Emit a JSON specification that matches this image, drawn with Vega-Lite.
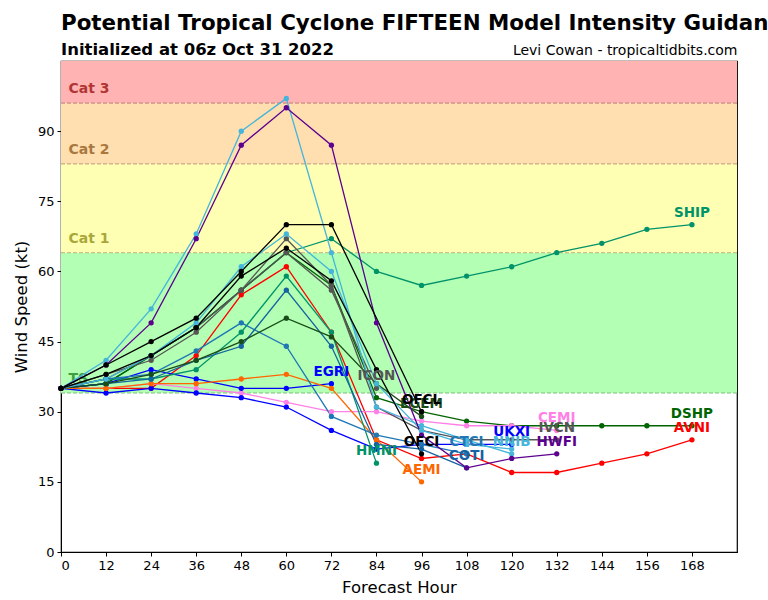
{
  "$schema": "https://vega.github.io/schema/vega-lite/v6.json",
  "width": 676,
  "height": 491,
  "autosize": "none",
  "padding": {"left": 61, "top": 61, "right": 31, "bottom": 48},
  "title": {
    "text": "Potential Tropical Cyclone FIFTEEN Model Intensity Guidance",
    "subtitle": "Initialized at 06z Oct 31 2022",
    "anchor": "start",
    "frame": "group",
    "font": "DejaVu Sans",
    "fontSize": 21.4,
    "fontWeight": "bold",
    "color": "black",
    "subtitleFont": "DejaVu Sans",
    "subtitleFontSize": 16.5,
    "subtitleFontWeight": "bold",
    "subtitleColor": "black",
    "subtitlePadding": 7,
    "offset": -15
  },
  "datasets": {
    "bands": [
      {"cat": "TS", "lo": 34, "hi": 64},
      {"cat": "Cat 1", "lo": 64, "hi": 83},
      {"cat": "Cat 2", "lo": 83, "hi": 96},
      {"cat": "Cat 3", "lo": 96, "hi": 105}
    ],
    "models": [
      {"m": "SHIP", "h": 0, "v": 35}, {"m": "SHIP", "h": 12, "v": 36}, {"m": "SHIP", "h": 24, "v": 42}, {"m": "SHIP", "h": 36, "v": 48}, {"m": "SHIP", "h": 48, "v": 56}, {"m": "SHIP", "h": 60, "v": 64}, {"m": "SHIP", "h": 72, "v": 67}, {"m": "SHIP", "h": 84, "v": 60}, {"m": "SHIP", "h": 96, "v": 57}, {"m": "SHIP", "h": 108, "v": 59}, {"m": "SHIP", "h": 120, "v": 61}, {"m": "SHIP", "h": 132, "v": 64}, {"m": "SHIP", "h": 144, "v": 66}, {"m": "SHIP", "h": 156, "v": 69}, {"m": "SHIP", "h": 168, "v": 70},
      {"m": "DSHP", "h": 0, "v": 35}, {"m": "DSHP", "h": 12, "v": 36}, {"m": "DSHP", "h": 24, "v": 42}, {"m": "DSHP", "h": 36, "v": 48}, {"m": "DSHP", "h": 48, "v": 56}, {"m": "DSHP", "h": 60, "v": 64}, {"m": "DSHP", "h": 72, "v": 57}, {"m": "DSHP", "h": 84, "v": 33}, {"m": "DSHP", "h": 96, "v": 30}, {"m": "DSHP", "h": 108, "v": 28}, {"m": "DSHP", "h": 120, "v": 27}, {"m": "DSHP", "h": 132, "v": 27}, {"m": "DSHP", "h": 144, "v": 27}, {"m": "DSHP", "h": 156, "v": 27}, {"m": "DSHP", "h": 168, "v": 27},
      {"m": "AVNI", "h": 0, "v": 35}, {"m": "AVNI", "h": 12, "v": 35}, {"m": "AVNI", "h": 24, "v": 35}, {"m": "AVNI", "h": 36, "v": 42}, {"m": "AVNI", "h": 48, "v": 55}, {"m": "AVNI", "h": 60, "v": 61}, {"m": "AVNI", "h": 72, "v": 47}, {"m": "AVNI", "h": 84, "v": 24}, {"m": "AVNI", "h": 96, "v": 20}, {"m": "AVNI", "h": 108, "v": 21}, {"m": "AVNI", "h": 120, "v": 17}, {"m": "AVNI", "h": 132, "v": 17}, {"m": "AVNI", "h": 144, "v": 19}, {"m": "AVNI", "h": 156, "v": 21}, {"m": "AVNI", "h": 168, "v": 24},
      {"m": "CEMI", "h": 0, "v": 35}, {"m": "CEMI", "h": 12, "v": 35}, {"m": "CEMI", "h": 24, "v": 36}, {"m": "CEMI", "h": 36, "v": 35}, {"m": "CEMI", "h": 48, "v": 34}, {"m": "CEMI", "h": 60, "v": 32}, {"m": "CEMI", "h": 72, "v": 30}, {"m": "CEMI", "h": 84, "v": 30}, {"m": "CEMI", "h": 96, "v": 28}, {"m": "CEMI", "h": 108, "v": 27}, {"m": "CEMI", "h": 120, "v": 27}, {"m": "CEMI", "h": 132, "v": 26},
      {"m": "EGRI", "h": 0, "v": 35}, {"m": "EGRI", "h": 12, "v": 36}, {"m": "EGRI", "h": 24, "v": 39}, {"m": "EGRI", "h": 36, "v": 37}, {"m": "EGRI", "h": 48, "v": 35}, {"m": "EGRI", "h": 60, "v": 35}, {"m": "EGRI", "h": 72, "v": 36},
      {"m": "UKXI", "h": 0, "v": 35}, {"m": "UKXI", "h": 12, "v": 34}, {"m": "UKXI", "h": 24, "v": 35}, {"m": "UKXI", "h": 36, "v": 34}, {"m": "UKXI", "h": 48, "v": 33}, {"m": "UKXI", "h": 60, "v": 31}, {"m": "UKXI", "h": 72, "v": 26}, {"m": "UKXI", "h": 84, "v": 22}, {"m": "UKXI", "h": 96, "v": 23}, {"m": "UKXI", "h": 108, "v": 23}, {"m": "UKXI", "h": 120, "v": 23},
      {"m": "AEMI", "h": 0, "v": 35}, {"m": "AEMI", "h": 12, "v": 35}, {"m": "AEMI", "h": 24, "v": 36}, {"m": "AEMI", "h": 36, "v": 36}, {"m": "AEMI", "h": 48, "v": 37}, {"m": "AEMI", "h": 60, "v": 38}, {"m": "AEMI", "h": 72, "v": 35}, {"m": "AEMI", "h": 84, "v": 24}, {"m": "AEMI", "h": 96, "v": 15},
      {"m": "HMNI", "h": 0, "v": 35}, {"m": "HMNI", "h": 12, "v": 37}, {"m": "HMNI", "h": 24, "v": 37}, {"m": "HMNI", "h": 36, "v": 39}, {"m": "HMNI", "h": 48, "v": 47}, {"m": "HMNI", "h": 60, "v": 59}, {"m": "HMNI", "h": 72, "v": 47}, {"m": "HMNI", "h": 84, "v": 19},
      {"m": "CTCI", "h": 0, "v": 35}, {"m": "CTCI", "h": 12, "v": 37}, {"m": "CTCI", "h": 24, "v": 38}, {"m": "CTCI", "h": 36, "v": 43}, {"m": "CTCI", "h": 48, "v": 49}, {"m": "CTCI", "h": 60, "v": 44}, {"m": "CTCI", "h": 72, "v": 29}, {"m": "CTCI", "h": 84, "v": 25}, {"m": "CTCI", "h": 96, "v": 23}, {"m": "CTCI", "h": 108, "v": 21},
      {"m": "COTI", "h": 0, "v": 35}, {"m": "COTI", "h": 12, "v": 36}, {"m": "COTI", "h": 24, "v": 37}, {"m": "COTI", "h": 36, "v": 41}, {"m": "COTI", "h": 48, "v": 44}, {"m": "COTI", "h": 60, "v": 56}, {"m": "COTI", "h": 72, "v": 44}, {"m": "COTI", "h": 84, "v": 23}, {"m": "COTI", "h": 96, "v": 22}, {"m": "COTI", "h": 108, "v": 18},
      {"m": "EGEM", "h": 0, "v": 35}, {"m": "EGEM", "h": 12, "v": 36}, {"m": "EGEM", "h": 24, "v": 38}, {"m": "EGEM", "h": 36, "v": 41}, {"m": "EGEM", "h": 48, "v": 45}, {"m": "EGEM", "h": 60, "v": 50}, {"m": "EGEM", "h": 72, "v": 46}, {"m": "EGEM", "h": 84, "v": 36}, {"m": "EGEM", "h": 96, "v": 29},
      {"m": "ICON", "h": 0, "v": 35}, {"m": "ICON", "h": 12, "v": 38}, {"m": "ICON", "h": 24, "v": 41}, {"m": "ICON", "h": 36, "v": 47}, {"m": "ICON", "h": 48, "v": 56}, {"m": "ICON", "h": 60, "v": 64}, {"m": "ICON", "h": 72, "v": 56}, {"m": "ICON", "h": 84, "v": 35},
      {"m": "IVCN", "h": 0, "v": 35}, {"m": "IVCN", "h": 12, "v": 37}, {"m": "IVCN", "h": 24, "v": 42}, {"m": "IVCN", "h": 36, "v": 48}, {"m": "IVCN", "h": 48, "v": 56}, {"m": "IVCN", "h": 60, "v": 67}, {"m": "IVCN", "h": 72, "v": 57}, {"m": "IVCN", "h": 84, "v": 31}, {"m": "IVCN", "h": 96, "v": 26}, {"m": "IVCN", "h": 108, "v": 24}, {"m": "IVCN", "h": 120, "v": 24}, {"m": "IVCN", "h": 132, "v": 24},
      {"m": "NNIC", "h": 0, "v": 35}, {"m": "NNIC", "h": 12, "v": 37}, {"m": "NNIC", "h": 24, "v": 42}, {"m": "NNIC", "h": 36, "v": 49}, {"m": "NNIC", "h": 48, "v": 61}, {"m": "NNIC", "h": 60, "v": 68}, {"m": "NNIC", "h": 72, "v": 60}, {"m": "NNIC", "h": 84, "v": 36}, {"m": "NNIC", "h": 96, "v": 26}, {"m": "NNIC", "h": 108, "v": 23}, {"m": "NNIC", "h": 120, "v": 22},
      {"m": "NNIB", "h": 0, "v": 35}, {"m": "NNIB", "h": 12, "v": 41}, {"m": "NNIB", "h": 24, "v": 52}, {"m": "NNIB", "h": 36, "v": 68}, {"m": "NNIB", "h": 48, "v": 90}, {"m": "NNIB", "h": 60, "v": 97}, {"m": "NNIB", "h": 72, "v": 64}, {"m": "NNIB", "h": 84, "v": 31}, {"m": "NNIB", "h": 96, "v": 27}, {"m": "NNIB", "h": 108, "v": 24}, {"m": "NNIB", "h": 120, "v": 21},
      {"m": "HWFI", "h": 0, "v": 35}, {"m": "HWFI", "h": 12, "v": 40}, {"m": "HWFI", "h": 24, "v": 49}, {"m": "HWFI", "h": 36, "v": 67}, {"m": "HWFI", "h": 48, "v": 87}, {"m": "HWFI", "h": 60, "v": 95}, {"m": "HWFI", "h": 72, "v": 87}, {"m": "HWFI", "h": 84, "v": 49}, {"m": "HWFI", "h": 96, "v": 25}, {"m": "HWFI", "h": 108, "v": 18}, {"m": "HWFI", "h": 120, "v": 20}, {"m": "HWFI", "h": 132, "v": 21},
      {"m": "OFCI", "h": 0, "v": 35}, {"m": "OFCI", "h": 12, "v": 38}, {"m": "OFCI", "h": 24, "v": 42}, {"m": "OFCI", "h": 36, "v": 48}, {"m": "OFCI", "h": 48, "v": 59}, {"m": "OFCI", "h": 60, "v": 65}, {"m": "OFCI", "h": 72, "v": 58}, {"m": "OFCI", "h": 84, "v": 39}, {"m": "OFCI", "h": 96, "v": 21},
      {"m": "OFCL", "h": 0, "v": 35}, {"m": "OFCL", "h": 12, "v": 40}, {"m": "OFCL", "h": 24, "v": 45}, {"m": "OFCL", "h": 36, "v": 50}, {"m": "OFCL", "h": 48, "v": 60}, {"m": "OFCL", "h": 60, "v": 70}, {"m": "OFCL", "h": 72, "v": 70}, {"m": "OFCL", "h": 96, "v": 30}
    ]
  },
  "config": {
    "font": "DejaVu Sans",
    "view": {"stroke": "black", "strokeWidth": 1.2},
    "axis": {
      "grid": false,
      "domainColor": "black",
      "tickColor": "black",
      "labelColor": "black",
      "titleColor": "black",
      "labelFont": "DejaVu Sans",
      "titleFont": "DejaVu Sans",
      "labelFontSize": 13,
      "titleFontSize": 16.5,
      "titleFontWeight": "normal",
      "tickSize": 4
    }
  },
  "resolve": {"scale": {"color": "independent"}, "axis": {"x": "independent", "y": "independent"}},
  "layer": [
    {
      "data": {"name": "bands"},
      "mark": {"type": "rect"},
      "encoding": {
        "x": {"datum": 0, "type": "quantitative", "scale": {"domain": [0, 180], "nice": false, "zero": false},
          "axis": {"orient": "top", "labels": false, "ticks": false, "domain": false, "title": "Levi Cowan - tropicaltidbits.com", "titleAnchor": "end", "titleAlign": "right", "titleFontSize": 14, "titlePadding": 4}},
        "x2": {"datum": 180},
        "y": {"field": "lo", "type": "quantitative", "axis": null},
        "y2": {"field": "hi"},
        "color": {"field": "cat", "type": "nominal", "legend": null,
          "scale": {"domain": ["TS", "Cat 1", "Cat 2", "Cat 3"], "range": ["#b3ffb3", "#ffffb3", "#ffdeb0", "#ffb3b3"]}}
      }
    },
    {
      "data": {"name": "bands"},
      "mark": {"type": "rule", "strokeDash": [4, 2], "strokeWidth": 1},
      "encoding": {
        "y": {"field": "lo", "type": "quantitative", "axis": null},
        "color": {"field": "cat", "type": "nominal", "legend": null,
          "scale": {"domain": ["TS", "Cat 1", "Cat 2", "Cat 3"], "range": ["#7fbf7f", "#bfb277", "#bf9a7a", "#bf7a7a"]}}
      }
    },
    {
      "data": {"name": "bands"},
      "mark": {"type": "text", "align": "left", "baseline": "bottom", "dy": -7, "fontSize": 14, "fontWeight": "bold", "font": "DejaVu Sans"},
      "encoding": {
        "x": {"datum": 2, "type": "quantitative", "axis": null},
        "y": {"field": "lo", "type": "quantitative", "axis": null},
        "text": {"field": "cat"},
        "color": {"field": "cat", "type": "nominal", "legend": null,
          "scale": {"domain": ["TS", "Cat 1", "Cat 2", "Cat 3"], "range": ["#3f9f3f", "#a8a83a", "#a87840", "#b03535"]}}
      }
    },
    {
      "data": {"name": "models"},
      "encoding": {
        "x": {"field": "h", "type": "quantitative", "title": "Forecast Hour",
          "scale": {"domain": [0, 180], "nice": false, "zero": false},
          "axis": {"values": [0, 12, 24, 36, 48, 60, 72, 84, 96, 108, 120, 132, 144, 156, 168], "labelPadding": 3, "titlePadding": 7}},
        "y": {"field": "v", "type": "quantitative", "title": "Wind Speed (kt)",
          "scale": {"domain": [0, 105], "nice": false, "zero": true},
          "axis": {"values": [0, 15, 30, 45, 60, 75, 90], "labelPadding": 3, "titlePadding": 8}},
        "color": {"field": "m", "type": "nominal", "legend": null,
          "scale": {
            "domain": ["SHIP", "DSHP", "AVNI", "CEMI", "EGRI", "UKXI", "AEMI", "HMNI", "CTCI", "COTI", "EGEM", "ICON", "IVCN", "NNIC", "NNIB", "HWFI", "OFCI", "OFCL"],
            "range": ["#00936a", "#006400", "#ff0000", "#ff80e6", "#0000ff", "#0000ff", "#ff6600", "#00936a", "#1f77b4", "#1563a0", "#184d18", "#555555", "#555555", "#45b5dc", "#45b5dc", "#5c0090", "#000000", "#000000"]}}
      },
      "layer": [
        {"mark": {"type": "line", "strokeWidth": 1.3}, "encoding": {"detail": {"field": "m"}}},
        {"mark": {"type": "point", "filled": true, "opacity": 1, "size": 28}},
        {
          "transform": [
            {"joinaggregate": [{"op": "max", "field": "h", "as": "last"}], "groupby": ["m"]},
            {"filter": "datum.h === datum.last && datum.m !== 'NNIC'"}
          ],
          "mark": {"type": "text", "fontSize": 13.5, "fontWeight": "bold", "font": "DejaVu Sans", "baseline": "middle", "dy": -12},
          "encoding": {"text": {"field": "m"}}
        }
      ]
    }
  ]
}
